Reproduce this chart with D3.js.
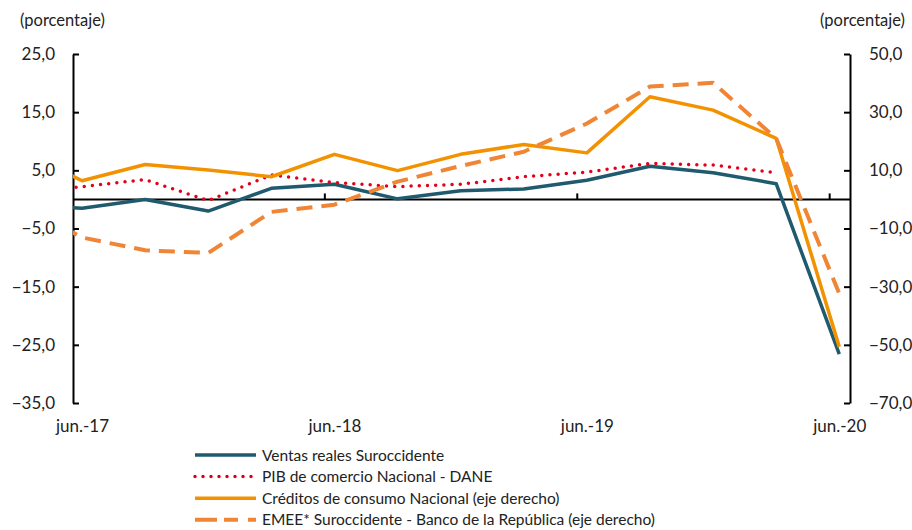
<!DOCTYPE html>
<html>
<head>
  <meta charset="utf-8">
  <title>Ventas reales Suroccidente</title>
  <script src="https://d3js.org/d3.v7.min.js"></script>
  <style>
    body { margin: 0; background: #fff; }
    svg text { font-family: Lato, "Open Sans", sans-serif; fill: #222; }
    .eje path, .eje line { stroke: #000; stroke-width: 2px; }
    .eje text { font-size: 17px; }
    .leyenda text { font-size: 15.5px; }
  </style>
</head>
<body>
<svg id="grafico" width="912" height="530"></svg>
<script>
"use strict"

// trimestres (mar.-17 queda fuera del area, solo se ve el tramo recortado)
var trimestres = ["mar.-17", "jun.-17", "sep.-17", "dic.-17", "mar.-18", "jun.-18", "sep.-18",
                  "dic.-18", "mar.-19", "jun.-19", "sep.-19", "dic.-19", "mar.-20", "jun.-20"];
var etiquetasX = ["jun.-17", "jun.-18", "jun.-19", "jun.-20"];

// eje izquierdo
var ventas = [-0.9, -1.5, 0.0, -2.0, 1.9, 2.6, 0.1, 1.5, 1.8, 3.3, 5.7, 4.6, 2.7, -26.6];
var pib    = [1.2, 2.2, 3.4, -0.2, 4.2, 2.9, 2.2, 2.6, 3.9, 4.7, 6.2, 5.9, 4.6, null];
// eje derecho
var creditos = [17.4, 6.4, 12.0, 10.1, 7.8, 15.5, 9.9, 15.5, 18.9, 16.0, 35.3, 30.7, 21.0, -50.7];
var emee     = [-1.3, -13.1, -17.5, -18.4, -4.3, -1.8, 6.1, 11.5, 16.4, 26.1, 38.8, 40.1, 21.0, -32.4];

var ticksIzq = [25, 15, 5, -5, -15, -25, -35];
var ticksDer = [50, 30, 10, -10, -30, -50, -70];

var series = [
  {nombre: "Ventas reales Suroccidente", datos: ventas, eje: "izq", color: "#1f5a6e", ancho: 3.5, trazo: null},
  {nombre: "PIB de comercio Nacional - DANE", datos: pib, eje: "izq", color: "#e2001a", ancho: 3.5, trazo: "0 8.2"},
  {nombre: "Créditos de consumo Nacional (eje derecho)", datos: creditos, eje: "der", color: "#f39200", ancho: 3.5, trazo: null},
  {nombre: "EMEE* Suroccidente - Banco de la República (eje derecho)", datos: emee, eje: "der", color: "#ef8535", ancho: 4, trazo: "16 9"}
];

var svg = d3.select("#grafico");
var izq = 73, der = 850, arriba = 54, abajo = 403;

var x = d3.scaleLinear().domain([0.857, 13.17]).range([izq, der]);
var yIzq = d3.scaleLinear().domain([-35, 25]).range([abajo, arriba]);
var yDer = d3.scaleLinear().domain([-70, 50]).range([abajo, arriba]);

svg.append("clipPath").attr("id", "recorte")
  .append("rect").attr("x", izq).attr("y", 0).attr("width", der - izq).attr("height", 530);

// linea del cero con marcas
var y0 = yIzq(0);
svg.append("g").attr("class", "eje")
  .attr("transform", "translate(0," + y0 + ")")
  .call(d3.axisTop(x).tickValues([4.84, 8.84, 12.84]).tickSizeInner(6).tickSizeOuter(0).tickFormat(""))
  .call(g => g.select(".domain").attr("d", "M" + izq + ",0H" + der).style("stroke-width", "2px"));

// etiquetas del eje x
svg.append("g").attr("class", "eje")
  .attr("transform", "translate(0," + abajo + ")")
  .call(d3.axisBottom(x).tickValues([1, 5, 9, 13]).tickSize(0).tickPadding(17)
        .tickFormat((d, i) => etiquetasX[i]))
  .call(g => g.select(".domain").remove());

var coma = d3.format(".1f");
var fmt = d => coma(d).replace(".", ",");

svg.append("g").attr("class", "eje")
  .attr("transform", "translate(" + izq + ",0)")
  .call(d3.axisLeft(yIzq).tickValues(ticksIzq).tickSizeInner(-6).tickSizeOuter(0).tickPadding(18).tickFormat(fmt));

svg.append("g").attr("class", "eje")
  .attr("transform", "translate(" + der + ",0)")
  .call(d3.axisRight(yDer).tickValues(ticksDer).tickSizeInner(-6).tickSizeOuter(0).tickPadding(19).tickFormat(fmt));

svg.append("text").attr("x", 20).attr("y", 26).style("font-size", "16.5px").text("(porcentaje)");
svg.append("text").attr("x", 905).attr("y", 26).attr("text-anchor", "end").style("font-size", "16.5px").text("(porcentaje)");

// lineas
var lineas = svg.append("g").attr("clip-path", "url(#recorte)");
series.forEach(function(s) {
  var y = s.eje === "izq" ? yIzq : yDer;
  var linea = d3.line()
    .defined(d => d != null)
    .x((d, i) => x(i))
    .y(d => y(d));
  lineas.append("path")
    .datum(s.datos)
    .attr("d", linea)
    .attr("fill", "none")
    .attr("stroke", s.color)
    .attr("stroke-width", s.ancho)
    .attr("stroke-linejoin", "round")
    .attr("stroke-linecap", s.trazo === "0 8.2" ? "round" : "butt")
    .attr("stroke-dasharray", s.trazo);
});

// leyenda
var leyenda = svg.append("g").attr("class", "leyenda");
series.forEach(function(s, i) {
  var yy = 455 + i * 21.6;
  leyenda.append("line")
    .attr("x1", 195).attr("x2", 256).attr("y1", yy).attr("y2", yy)
    .attr("stroke", s.color)
    .attr("stroke-width", s.ancho)
    .attr("stroke-linecap", s.trazo === "0 8.2" ? "round" : "butt")
    .attr("stroke-dasharray", s.trazo === "0 8.2" ? "0 8" : (s.trazo ? "22 7 14 10" : null));
  leyenda.append("text")
    .attr("x", 262).attr("y", yy + 5.5)
    .text(s.nombre);
});
</script>
</body>
</html>
